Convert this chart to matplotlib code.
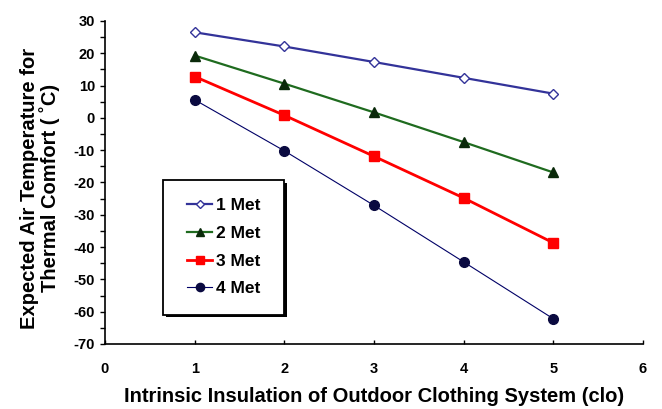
import numpy as np
import matplotlib
matplotlib.use("Agg")
import matplotlib.pyplot as plt
import matplotlib.patches as mpatches
import matplotlib.transforms as mtransforms
from matplotlib.ticker import MultipleLocator

plt.rcParams["font.family"] = ["Liberation Sans", "DejaVu Sans"]
plt.rcParams["font.weight"] = "bold"
plt.rcParams["axes.unicode_minus"] = False

# data
clo = [1, 2, 3, 4, 5]
met1 = [26.5, 22.1, 17.3, 12.4, 7.5]
met2 = [19.3, 10.6, 1.7, -7.5, -16.9]
met3 = [12.8, 0.8, -11.9, -24.8, -38.7]
met4 = [5.6, -10.2, -27.1, -44.6, -62.2]
labels = ["1 Met", "2 Met", "3 Met", "4 Met"]

fig = plt.figure(figsize=(6.62, 4.09), dpi=100)
ax = fig.add_axes([0.1586, 0.159, 0.8127, 0.7897])

ax.plot(clo, met1, color="#333399", lw=1.6, marker="D", ms=5,
        mfc="white", mec="#333399", mew=1.0, label=labels[0])
ax.plot(clo, met2, color="#1f6b1f", lw=1.6, marker="^", ms=6.5,
        mfc="#0a2a0a", mec="#0a2a0a", label=labels[1])
ax.plot(clo, met3, color="#ff0000", lw=2.0, marker="s", ms=6.5,
        mfc="#ff0000", mec="#ff0000", label=labels[2])
ax.plot(clo, met4, color="#000066", lw=0.8, marker="o", ms=7,
        mfc="#0a0a40", mec="#0a0a40", label=labels[3])

ax.set_xlim(0, 6)
ax.set_ylim(-70, 30)
ax.xaxis.set_major_locator(MultipleLocator(1))
ax.yaxis.set_major_locator(MultipleLocator(10))
ax.yaxis.set_minor_locator(MultipleLocator(5))
ax.tick_params(axis="y", which="both", direction="out", length=3.6,
               width=1.0, labelsize=10.5, pad=3.6)
ax.tick_params(axis="x", which="both", direction="in", length=3,
               width=1.0, labelsize=10.5, pad=13)
for lab in ax.get_xticklabels() + ax.get_yticklabels():
    lab.set_fontweight("bold")

ax.spines["top"].set_visible(False)
ax.spines["right"].set_visible(False)
ax.spines["left"].set_linewidth(1.2)
ax.spines["bottom"].set_linewidth(1.2)

ax.set_xlabel("Intrinsic Insulation of Outdoor Clothing System (clo)",
              fontsize=14.5, fontweight="bold", labelpad=8)
ax.set_ylabel("Expected Air Temperature for\nThermal Comfort ( \u02daC)",
              fontsize=14.5, fontweight="bold", linespacing=1.05)
ax.yaxis.set_label_coords(-0.083, 0.483)

# legend box with drop shadow
bx, by, bw, bh = 0.108, 0.091, 0.225, 0.416
shadow_tr = ax.transAxes + mtransforms.ScaledTranslation(2.5 / 100, -2.5 / 100, fig.dpi_scale_trans)
ax.add_patch(mpatches.Rectangle((bx, by), bw, bh, transform=shadow_tr,
                                facecolor="black", edgecolor="none", zorder=4))
ax.add_patch(mpatches.Rectangle((bx, by), bw, bh, transform=ax.transAxes,
                                facecolor="white", edgecolor="black", lw=1.3, zorder=5))
leg = ax.legend(loc="center", bbox_to_anchor=(bx + bw / 2, by + bh / 2),
                frameon=False, prop={"weight": "bold", "size": 12.5},
                labelspacing=0.72, handlelength=1.45, handletextpad=0.2,
                borderpad=0, borderaxespad=0)
leg.set_zorder(6)
for h in leg.legend_handles:
    h.set_markersize(h.get_markersize() * 0.85)

fig.savefig("out.png", dpi=100)
